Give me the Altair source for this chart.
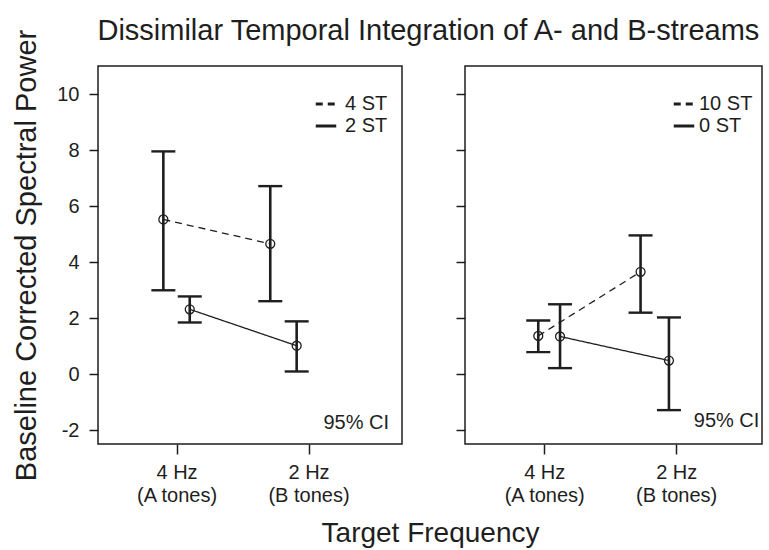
import altair as alt
import pandas as pd

INK = "#1e1e1e"
FONT = "Liberation Sans"

# ---- data ----
L_series = ["4 ST", "4 ST", "2 ST", "2 ST"]
L_x = [0.90, 1.71, 1.10, 1.91]
L_mean = [5.52, 4.65, 2.31, 1.01]
L_upper = [7.95, 6.71, 2.77, 1.88]
L_lower = [2.99, 2.60, 1.84, 0.09]
L_order = ["4 ST", "2 ST"]

R_series = ["10 ST", "10 ST", "0 ST", "0 ST"]
R_x = [0.955, 1.73, 1.12, 1.945]
R_mean = [1.36, 3.65, 1.34, 0.48]
R_upper = [1.91, 4.95, 2.49, 2.02]
R_lower = [0.78, 2.19, 0.21, -1.29]
R_order = ["10 ST", "0 ST"]

x_ticks = [1, 2]
x_labels = [["4 Hz", "(A tones)"], ["2 Hz", "(B tones)"]]
y_ticks = [-2, 0, 2, 4, 6, 8, 10]

title_text = "Dissimilar Temporal Integration of A- and B-streams"
y_title = "Baseline Corrected Spectral Power"
x_title = "Target Frequency"
ci_text = "95% CI"

label_expr = " : ".join(
    [f"datum.value == {v} ? {lab!r}" for v, lab in zip(x_ticks[:-1], x_labels[:-1])]
    + [repr(x_labels[-1])]
)

H = 378


def panel(series, xs, means, ups, lows, order, x_dom, width, first, legend_x, label_off, ci_x, ci_y):
    df = pd.DataFrame({"series": series, "x": xs, "mean": means, "upper": ups, "lower": lows})
    xscale = alt.Scale(domain=x_dom, nice=False, zero=False)
    yscale = alt.Scale(domain=[-2.5, 11], nice=False, zero=False)
    xaxis = alt.Axis(
        values=x_ticks, labelExpr=label_expr, grid=False, domain=False,
        tickSize=10, tickWidth=1.5, tickColor=INK, labelFontSize=20, labelColor=INK,
        labelFont=FONT, labelPadding=8, labelLineHeight=23, labelBaseline="top",
        title=x_title if first else None, titleFont=FONT, titleFontSize=28,
        titleFontWeight="normal", titleColor=INK,
        titleX=332, titleY=97, titleBaseline="alphabetic", titleAlign="center",
    )
    yaxis = alt.Axis(
        values=y_ticks, grid=False, domain=False, labels=first,
        labelExpr="'' + datum.value",
        tickSize=9, tickWidth=1.5, tickColor=INK, labelFontSize=20, labelColor=INK,
        labelFont=FONT, labelPadding=10,
        title=y_title if first else None, titleFont=FONT, titleFontSize=29,
        titleFontWeight="normal", titleColor=INK, titlePadding=15,
    )
    X = lambda f: alt.X(f, scale=xscale, axis=xaxis)
    base = alt.Chart(df)
    rules = base.mark_rule(strokeWidth=2.6, color=INK).encode(
        x=X("x:Q"), y=alt.Y("lower:Q", scale=yscale, axis=yaxis), y2="upper:Q")
    cap_hi = base.mark_tick(orient="horizontal", size=24, thickness=2.4, color=INK, opacity=1).encode(
        x=X("x:Q"), y=alt.Y("upper:Q", scale=yscale, axis=yaxis))
    cap_lo = base.mark_tick(orient="horizontal", size=24, thickness=2.4, color=INK, opacity=1).encode(
        x=X("x:Q"), y=alt.Y("lower:Q", scale=yscale, axis=yaxis))
    line = base.mark_line(strokeWidth=1.3, color=INK).encode(
        x=X("x:Q"), y=alt.Y("mean:Q", scale=yscale, axis=yaxis),
        strokeDash=alt.StrokeDash(
            "series:N", sort=order,
            scale=alt.Scale(domain=order, range=[[7, 5], [1, 0]]),
            legend=alt.Legend(
                title=None, orient="none", legendX=legend_x, legendY=26,
                symbolType="stroke", symbolSize=420, symbolStrokeWidth=3,
                symbolStrokeColor=INK, labelFontSize=20, labelFont=FONT,
                labelColor=INK, labelOffset=label_off, rowPadding=0, padding=0,
            ),
        ),
    )
    pts = base.mark_point(shape="circle", size=80, filled=False, strokeWidth=1.3,
                          color=INK, opacity=1).encode(
        x=X("x:Q"), y=alt.Y("mean:Q", scale=yscale, axis=yaxis))
    ci = alt.Chart(pd.DataFrame({"t": [ci_text]})).mark_text(
        align="right", baseline="alphabetic", fontSize=20, font=FONT, color=INK
    ).encode(x=alt.datum(ci_x), y=alt.datum(ci_y), text="t:N")
    return alt.layer(rules, cap_hi, cap_lo, line, pts, ci).properties(width=width, height=H)


left = panel(L_series, L_x, L_mean, L_upper, L_lower, L_order, [0.405, 2.708], 304, True, 216, 7, 2.61, -1.95)
right = panel(R_series, R_x, R_mean, R_upper, R_lower, R_order, [0.40, 2.65], 297, False, 207, 3, 2.63, -1.91)

chart = alt.hconcat(
    left, right, spacing=63, bounds="flush",
    title=alt.TitleParams(title_text, fontSize=29, font=FONT, fontWeight="normal",
                          color=INK, anchor="middle", offset=-17, dx=41),
).resolve_scale(strokeDash="independent").resolve_legend(strokeDash="independent").configure_view(
    stroke=INK, strokeWidth=1.5
).properties(padding={"left": 12, "top": 16, "right": 5, "bottom": 5}, background="white")

chart.save("out.html", embed_options={"renderer": "svg", "actions": False})
